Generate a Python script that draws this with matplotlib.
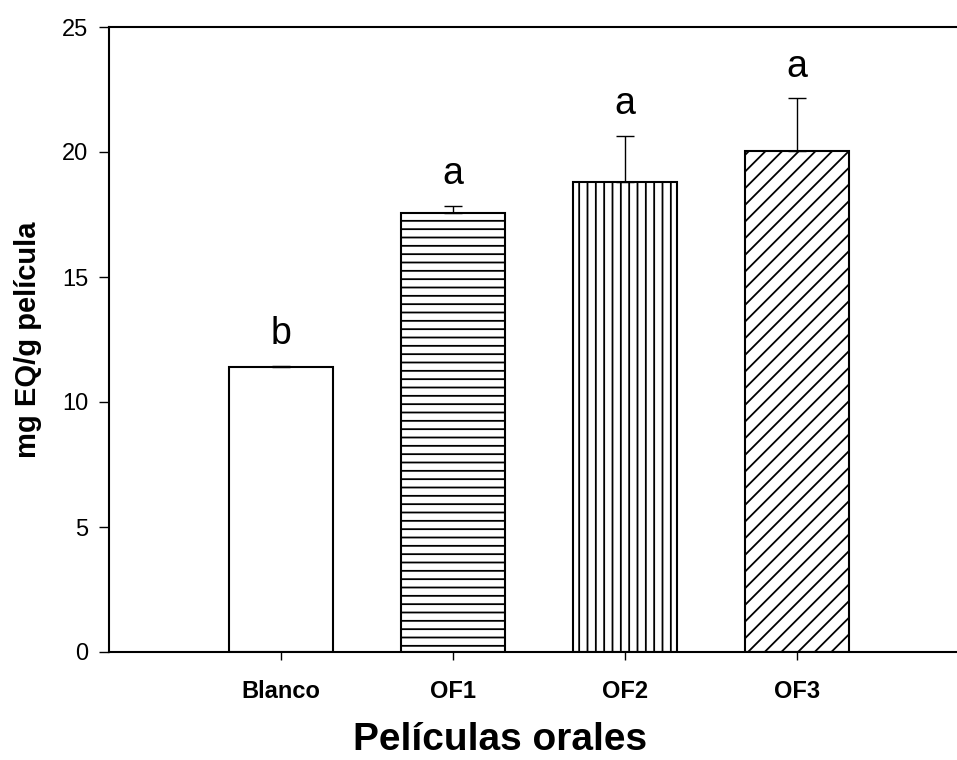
import matplotlib
matplotlib.use("Agg")
import matplotlib.pyplot as plt
import numpy as np

# data
categories = ["Blanco", "OF1", "OF2", "OF3"]
values = [11.4, 17.55, 18.8, 20.05]
errors = [0.05, 0.3, 1.85, 2.1]
letters = ["b", "a", "a", "a"]
hatches = ["", "--", "||", "//"]

plt.rcParams['font.family'] = ['Liberation Sans', 'DejaVu Sans']
plt.rcParams['hatch.linewidth'] = 1.3
plt.rcParams['hatch.color'] = 'black'

fig = plt.figure(figsize=(9.57, 7.6), dpi=100)
# axes run past the right edge of the figure, as in the original crop
ax = fig.add_axes([109 / 957, 108 / 760, 860 / 957, 625 / 760])

x = np.arange(1, len(categories) + 1)
for xi, v, h in zip(x, values, hatches):
    ax.bar(xi, v, width=0.6, color='white', edgecolor='black',
           linewidth=1.5, hatch=h, zorder=2)

ax.errorbar(x, values, yerr=[np.zeros(len(errors)), errors], fmt='none',
            ecolor='black', elinewidth=1, capsize=6.5, capthick=1, zorder=3)

for xi, v, e, t in zip(x, values, errors, letters):
    ax.text(xi, v + e + 0.85, t, ha='center', va='baseline', fontsize=27)

ax.set_xlim(0, 5)
ax.set_ylim(0, 25)
ax.set_yticks([0, 5, 10, 15, 20, 25])
ax.set_xticks(x)
ax.set_xticklabels(categories, fontweight='bold')

ax.spines['right'].set_visible(False)
for s in ['left', 'bottom', 'top']:
    ax.spines[s].set_linewidth(1.5)

ax.tick_params(axis='y', direction='out', length=7, width=1, labelsize=17, pad=8)
ax.tick_params(axis='x', direction='out', length=6, width=1, labelsize=17, pad=14)

ax.set_ylabel("mg EQ/g película", fontsize=21, fontweight='bold', labelpad=14)
ax.set_xlabel("Películas orales", fontsize=28, fontweight='bold', labelpad=14)
ax.xaxis.label.set_x(0.455)

fig.savefig("out.png", dpi=100)
